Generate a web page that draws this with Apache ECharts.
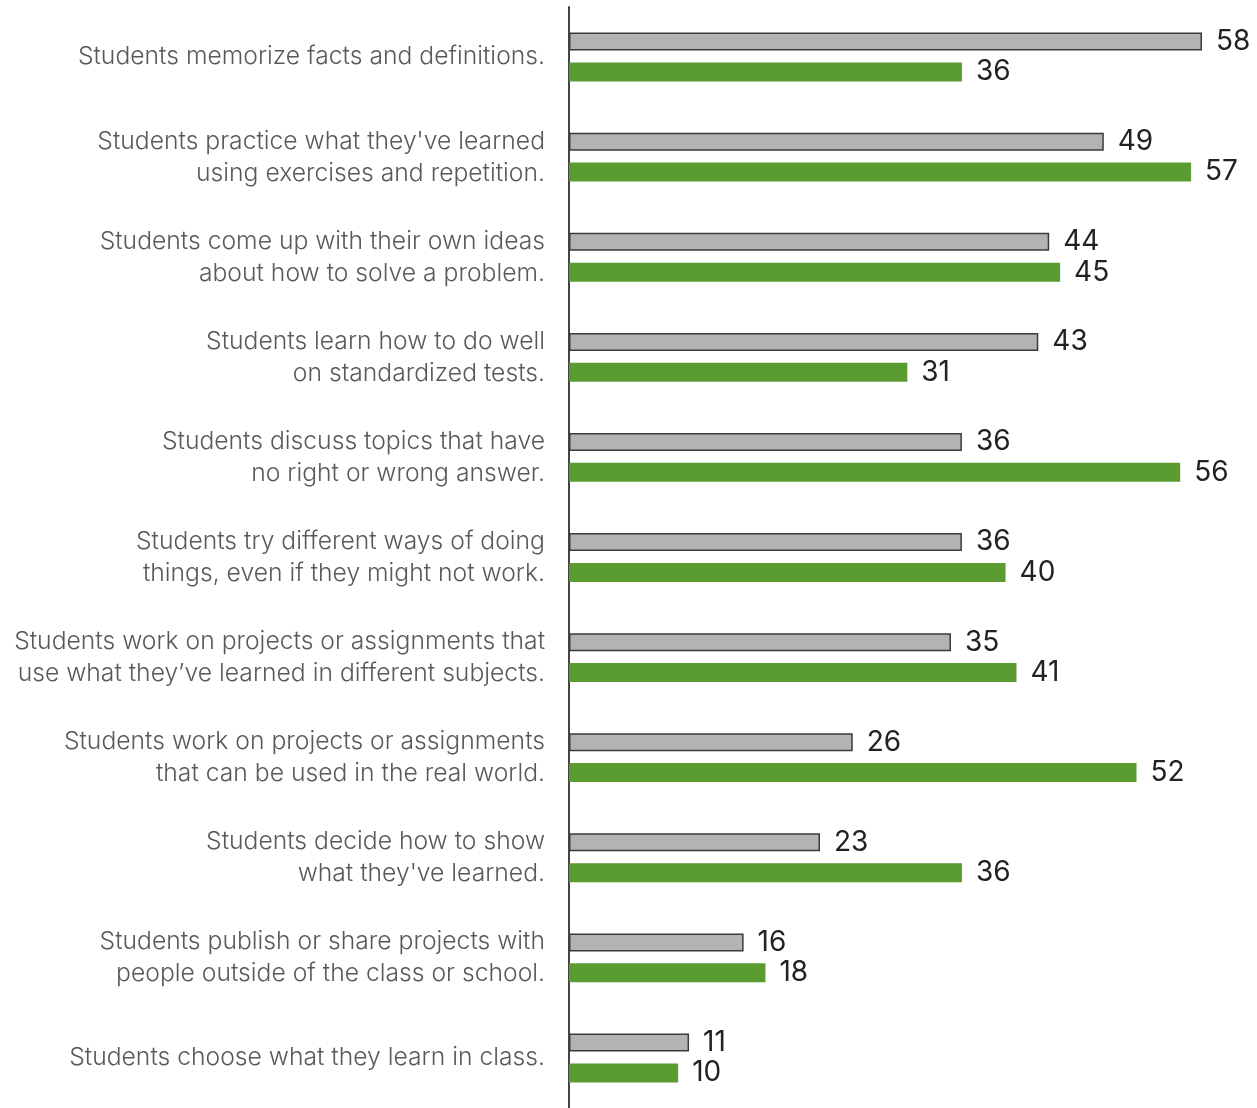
<!DOCTYPE html>
<html><head><meta charset="utf-8">
<script src="https://cdn.jsdelivr.net/npm/echarts@6/dist/echarts.min.js"></script>
<style>html,body{margin:0;padding:0;background:#fff}#c{width:1257px;height:1108px}</style>
</head><body><div id="c"></div>
<script>
const categories = [
  "Students memorize facts and definitions.",
  "Students practice what they've learned\nusing exercises and repetition.",
  "Students come up with their own ideas\nabout how to solve a problem.",
  "Students learn how to do well\non standardized tests.",
  "Students discuss topics that have\nno right or wrong answer.",
  "Students try different ways of doing\nthings, even if they might not work.",
  "Students work on projects or assignments that\nuse what they\u2019ve learned in different subjects.",
  "Students work on projects or assignments\nthat can be used in the real world.",
  "Students decide how to show\nwhat they've learned.",
  "Students publish or share projects with\npeople outside of the class or school.",
  "Students choose what they learn in class."
];
const grayValues = [58, 49, 44, 43, 36, 36, 35, 26, 23, 16, 11];
const greenValues = [36, 57, 45, 31, 56, 40, 41, 52, 36, 18, 10];

const chart = echarts.init(document.getElementById('c'));
const valLabel = {show:true, position:'right', distance:14, color:'#222', fontSize:28, fontFamily:'Inter'};
chart.setOption({
  animation:false,
  grid:{left:569, width:633, top:7, height:1105, containLabel:false},
  xAxis:{type:'value', min:0, max:58, show:false},
  yAxis:{type:'category', inverse:true, data:categories,
    axisLine:{show:true, lineStyle:{color:'#444', width:2}},
    axisTick:{show:false},
    axisLabel:{margin:24, align:'right', color:'#595959', fontSize:24.7, fontWeight:300, fontFamily:'Inter', lineHeight:32}
  },
  series:[
    {type:'bar', data:grayValues, barWidth:18, barGap:'66%',
      itemStyle:{color:'#b3b3b3', borderColor:'#3a3a3a', borderWidth:1.5},
      label:valLabel},
    {type:'bar', data:greenValues, barWidth:19,
      itemStyle:{color:'#5a9b32'},
      label:valLabel}
  ]
});
</script></body></html>
